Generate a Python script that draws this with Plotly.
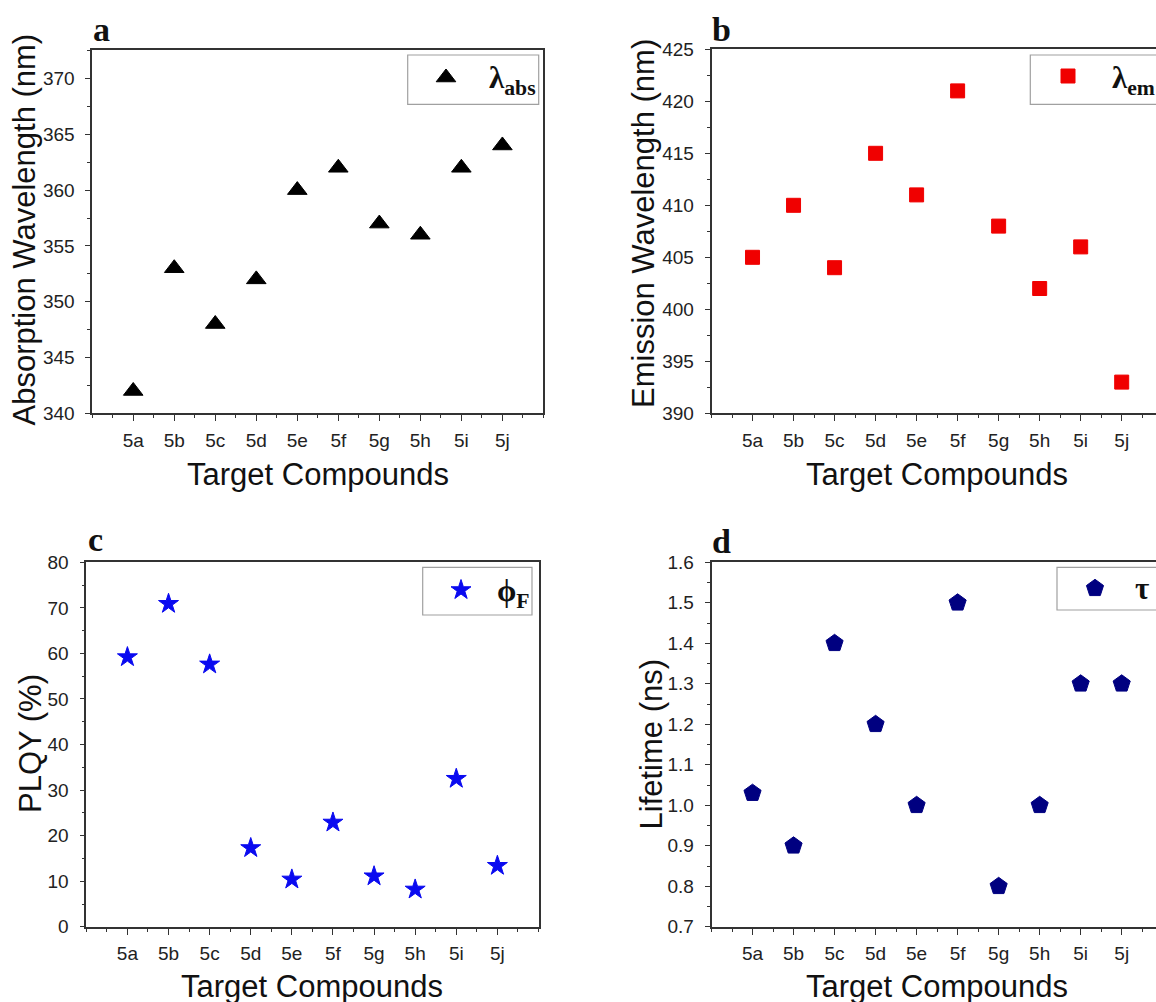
import plotly.graph_objects as go

# ---------------- data ----------------
compounds = ["5a", "5b", "5c", "5d", "5e", "5f", "5g", "5h", "5i", "5j"]
abs_wavelength = [342, 353, 348, 352, 360, 362, 357, 356, 362, 364]
em_wavelength = [405, 410, 404, 415, 411, 421, 408, 402, 406, 393]
plqy = [59.2, 70.9, 57.6, 17.3, 10.4, 22.9, 11.1, 8.2, 32.5, 13.4]
lifetime = [1.03, 0.90, 1.40, 1.20, 1.00, 1.50, 0.80, 1.00, 1.30, 1.30]

W, H = 1156, 1002


def fx(x):
    return x / W


def fy(y):
    return 1 - y / H


positions = list(range(1, len(compounds) + 1))

SANS = "Liberation Sans, Arial, sans-serif"
SERIF = "Liberation Serif, Times New Roman, serif"
AX = "#333333"

panels = [
    dict(letter="a", values=abs_wavelength, x0=92.2, x1=543.4, y0=49.5, y1=413.3,
         xmax=11, yr=[340, 372.6], dtick=5, minor=2.5, ymirror=True, fmt="d",
         symbol="triangle-up", size=17, color="#000000",
         ytitle="Absorption Wavelength (nm)", ytx=24.5, yty=230,
         leg=dict(box=(407.7, 538.7, 55, 104.3), m=(446, 77.5), tx=486.5, ty=80,
                  text="λ<sub>abs</sub>"),
         lx=91, ly=50),
    dict(letter="b", values=em_wavelength, x0=711.5, x1=W, y0=49.3, y1=413.3,
         xmax=(W - 711.5) / 41.02, yr=[390, 425], dtick=5, minor=2.5, ymirror=False, fmt="d",
         symbol="square", size=14, color="#f00000",
         ytitle="Emission Wavelength (nm)", ytx=643, yty=224,
         leg=dict(box=(1030.3, 1175, 55, 104.3), m=(1068, 76), tx=1109.5, ty=80,
                  text="λ<sub>em</sub>"),
         lx=709.5, ly=50),
    dict(letter="c", values=plqy, x0=86.3, x1=538.5, y0=562.3, y1=926.8,
         xmax=11, yr=[0, 80], dtick=10, minor=5, ymirror=True, fmt="d",
         symbol="star", size=15, color="#0a0af0",
         ytitle="PLQY (%)", ytx=30, yty=744,
         leg=dict(box=(422.7, 532, 567.3, 615), m=(461, 590), tx=495, ty=593,
                  text="ϕ<sub>F</sub>"),
         lx=86, ly=560),
    dict(letter="d", values=lifetime, x0=711.5, x1=W, y0=562.3, y1=926.8,
         xmax=(W - 711.5) / 41.02, yr=[0.7, 1.6], dtick=0.1, minor=0.05, ymirror=False, fmt=".1f",
         symbol="pentagon", size=18, color="#000080",
         ytitle="Lifetime (ns)", ytx=650.5, yty=744,
         leg=dict(box=(1057, 1175, 567.3, 610), m=(1095, 588.3), tx=1133, ty=588,
                  text="τ"),
         lx=709.5, ly=561.5),
]

fig = go.Figure()
layout = dict(
    width=W, height=H,
    margin=dict(l=0, r=0, t=0, b=0, autoexpand=False),
    paper_bgcolor="white", plot_bgcolor="white",
    showlegend=False,
    shapes=[], annotations=[],
)

for i, p in enumerate(panels):
    n = i + 1
    xa = "xaxis" if n == 1 else f"xaxis{n}"
    ya = "yaxis" if n == 1 else f"yaxis{n}"
    xr = "x" if n == 1 else f"x{n}"
    yr = "y" if n == 1 else f"y{n}"

    fig.add_trace(go.Scatter(
        x=positions, y=p["values"], xaxis=xr, yaxis=yr, mode="markers",
        marker=dict(symbol=p["symbol"], size=p["size"], color=p["color"],
                    line=dict(color=p["color"], width=1)),
        cliponaxis=False, hoverinfo="skip",
    ))

    layout[xa] = dict(
        domain=[fx(p["x0"]), fx(p["x1"])], anchor=yr, range=[0, p["xmax"]],
        tickmode="array", tickvals=positions, ticktext=compounds,
        ticks="outside", ticklen=6, tickwidth=1.3, tickcolor=AX,
        showline=True, linecolor=AX, linewidth=1.6, mirror=True,
        showgrid=False, zeroline=False, ticklabelstandoff=3,
        tickfont=dict(family=SANS, size=19, color="#222222"),
        minor=dict(tickmode="linear", tick0=0, dtick=0.5, ticks="outside",
                   ticklen=3, tickwidth=1.2, tickcolor=AX, showgrid=False),
    )
    layout[ya] = dict(
        domain=[fy(p["y1"]), fy(p["y0"])], anchor=xr, range=p["yr"],
        tickmode="linear", tick0=p["yr"][0], dtick=p["dtick"], tickformat=p["fmt"],
        ticks="outside", ticklen=5, tickwidth=1.3, tickcolor=AX,
        showline=True, linecolor=AX, linewidth=1.6, mirror=p["ymirror"],
        showgrid=False, zeroline=False, ticklabelstandoff=7,
        tickfont=dict(family=SANS, size=19, color="#222222"),
        minor=dict(tickmode="linear", tick0=p["yr"][0], dtick=p["minor"], ticks="outside",
                   ticklen=3, tickwidth=1.2, tickcolor=AX, showgrid=False),
    )

    # legend marker on a small hidden overlay axis pair
    m = 4 + n
    cx, cy = p["leg"]["m"]
    layout[f"xaxis{m}"] = dict(domain=[fx(cx - 12), fx(cx + 12)], range=[0, 1],
                               anchor=f"y{m}", visible=False, fixedrange=True)
    layout[f"yaxis{m}"] = dict(domain=[fy(cy + 12), fy(cy - 12)], range=[0, 1],
                               anchor=f"x{m}", visible=False, fixedrange=True)
    fig.add_trace(go.Scatter(
        x=[0.5], y=[0.5], xaxis=f"x{m}", yaxis=f"y{m}", mode="markers",
        marker=dict(symbol=p["symbol"], size=p["size"], color=p["color"],
                    line=dict(color=p["color"], width=1)),
        cliponaxis=False, hoverinfo="skip",
    ))

    bx0, bx1, by0, by1 = p["leg"]["box"]
    layout["shapes"].append(dict(
        type="rect", xref="paper", yref="paper",
        x0=fx(bx0), x1=fx(bx1), y0=fy(by1), y1=fy(by0),
        line=dict(color="#a0a0a0", width=1.2), fillcolor="rgba(0,0,0,0)",
    ))
    layout["annotations"].append(dict(
        xref="paper", yref="paper", x=fx(p["leg"]["tx"]), y=fy(p["leg"]["ty"]),
        xanchor="left", yanchor="middle", showarrow=False,
        text="<b>" + p["leg"]["text"] + "</b>",
        font=dict(family=SERIF, size=31, color="#111111"),
    ))

    # panel letter
    layout["annotations"].append(dict(
        xref="paper", yref="paper", x=fx(p["lx"]), y=fy(p["ly"]),
        xanchor="left", yanchor="bottom", showarrow=False,
        text="<b>" + p["letter"] + "</b>",
        font=dict(family=SERIF, size=34, color="#111111"),
    ))

    # y title
    layout["annotations"].append(dict(
        xref="paper", yref="paper", x=fx(p["ytx"]), y=fy(p["yty"]),
        xanchor="center", yanchor="middle", textangle=-90, showarrow=False,
        text=p["ytitle"], font=dict(family=SANS, size=31, color="#111111"),
    ))
    # x title
    xb = 485 if n <= 2 else 996.7
    layout["annotations"].append(dict(
        xref="paper", yref="paper",
        x=fx((p["x0"] + p["x0"] + 11 * (p["x1"] - p["x0"]) / p["xmax"]) / 2),
        y=fy(xb - 10.7),
        xanchor="center", yanchor="middle", showarrow=False,
        text="Target Compounds", font=dict(family=SANS, size=31, color="#111111"),
    ))

fig.update_layout(**layout)
fig.write_html("out.html")
